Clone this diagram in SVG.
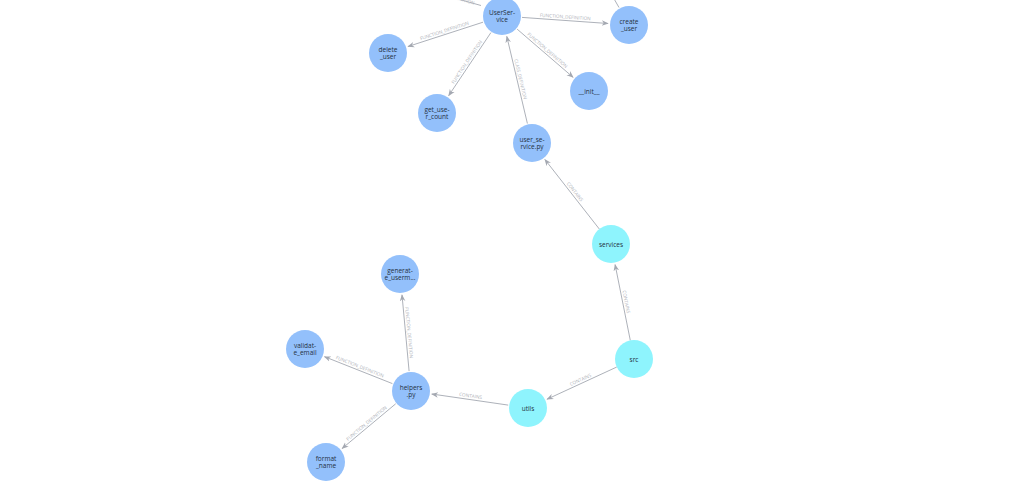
<svg xmlns="http://www.w3.org/2000/svg" width="1030" height="498" viewBox="0 0 1030 498">
  <style>
    .edge { stroke: #a4a8b1; stroke-width: 0.9; fill: none; }
    .elabel { font-family: "Open Sans", "Liberation Sans", sans-serif; font-size: 4.7px; fill: #aeb1b8; text-anchor: middle; dominant-baseline: central; }
    .node circle { stroke: none; }
    .file circle { fill: #93c0fb; }
    .dir circle { fill: #8ef4fd; }
    .node text { font-family: "Open Sans", "Liberation Sans", sans-serif; font-size: 6.5px; fill: #243040; text-anchor: middle; dominant-baseline: central; }
  </style>
  <defs>
    <marker id="arrow" viewBox="0 0 10 10" refX="9" refY="5" markerWidth="7" markerHeight="7" markerUnits="userSpaceOnUse" orient="auto">
      <path d="M0,1 L10,5 L0,9 L3,5 Z" fill="#a4a8b1"/>
    </marker>
  </defs>
  <rect width="1030" height="498" fill="#ffffff"/>

  <g id="connectors">
    <!-- UserService → off-canvas method -->
    <line class="edge" x1="481" y1="5.5" x2="440" y2="-6"/>
    <text class="elabel" transform="translate(449.8,-4.2) rotate(15.7)">FUNCTION_DEFINITION</text>
    <!-- off-canvas → create_user -->
    <line class="edge" x1="619" y1="7.5" x2="605" y2="-17"/>

    <line class="edge" x1="522" y1="17.4" x2="608" y2="23.5" marker-end="url(#arrow)"/>
    <text class="elabel" transform="translate(565.3,16.5) rotate(4)">FUNCTION_DEFINITION</text>

    <line class="edge" x1="483" y1="22.2" x2="408" y2="46.5" marker-end="url(#arrow)"/>
    <text class="elabel" transform="translate(444.3,30.5) rotate(-18)">FUNCTION_DEFINITION</text>

    <line class="edge" x1="490.9" y1="32.6" x2="448.7" y2="95.6" marker-end="url(#arrow)"/>
    <text class="elabel" transform="translate(466.5,61.9) rotate(-56)">FUNCTION_DEFINITION</text>

    <line class="edge" x1="517.1" y1="29.1" x2="573.1" y2="77.3" marker-end="url(#arrow)"/>
    <text class="elabel" transform="translate(547.6,50) rotate(40.8)">FUNCTION_DEFINITION</text>

    <line class="edge" x1="527.4" y1="123.5" x2="506.8" y2="36.4" marker-end="url(#arrow)"/>
    <text class="elabel" transform="translate(520.9,79) rotate(76.7)">CLASS_DEFINITION</text>

    <line class="edge" x1="599.3" y1="229" x2="544.9" y2="159.5" marker-end="url(#arrow)"/>
    <text class="elabel" transform="translate(575.2,191.5) rotate(52)">CONTAINS</text>

    <line class="edge" x1="630.3" y1="340.4" x2="615.1" y2="264.6" marker-end="url(#arrow)"/>
    <text class="elabel" transform="translate(626.6,301.7) rotate(78.7)">CONTAINS</text>

    <line class="edge" x1="616.8" y1="367" x2="547.1" y2="399.2" marker-end="url(#arrow)"/>
    <text class="elabel" transform="translate(580.3,379.4) rotate(-24.8)">CONTAINS</text>

    <line class="edge" x1="508.2" y1="405.1" x2="431.8" y2="394" marker-end="url(#arrow)"/>
    <text class="elabel" transform="translate(470.6,395.5) rotate(8.3)">CONTAINS</text>

    <line class="edge" x1="409.1" y1="371.1" x2="402" y2="294.9" marker-end="url(#arrow)"/>
    <text class="elabel" transform="translate(409.5,332.6) rotate(84.6)">FUNCTION_DEFINITION</text>

    <line class="edge" x1="392.4" y1="383.6" x2="324.5" y2="356.7" marker-end="url(#arrow)"/>
    <text class="elabel" transform="translate(360,366.3) rotate(21.6)">FUNCTION_DEFINITION</text>

    <line class="edge" x1="395.7" y1="403.8" x2="342.1" y2="448.5" marker-end="url(#arrow)"/>
    <text class="elabel" transform="translate(366.4,423) rotate(-39.9)">FUNCTION_DEFINITION</text>
  </g>

  <g id="node-UserService" class="node file">
    <circle cx="502" cy="16" r="19"/>
    <text x="502" y="12.5">UserSer-</text>
    <text x="502" y="19.5">vice</text>
  </g>
  <g id="node-create_user" class="node file">
    <circle cx="629" cy="25" r="19"/>
    <text x="629" y="21.5">create</text>
    <text x="629" y="28.5">_user</text>
  </g>
  <g id="node-delete_user" class="node file">
    <circle cx="388" cy="53" r="19"/>
    <text x="388" y="49.5">delete</text>
    <text x="388" y="56.5">_user</text>
  </g>
  <g id="node-get_user_count" class="node file">
    <circle cx="437" cy="113" r="19"/>
    <text x="437" y="109.5">get_use-</text>
    <text x="437" y="116.5">r_count</text>
  </g>
  <g id="node-init" class="node file">
    <circle cx="589" cy="91" r="19"/>
    <text x="589" y="91.5">__init__</text>
  </g>
  <g id="node-user_service_py" class="node file">
    <circle cx="532" cy="143" r="19"/>
    <text x="532" y="139.5">user_se-</text>
    <text x="532" y="146.5">rvice.py</text>
  </g>
  <g id="node-services" class="node dir">
    <circle cx="611" cy="244" r="19"/>
    <text x="611" y="244.5">services</text>
  </g>
  <g id="node-src" class="node dir">
    <circle cx="634" cy="359" r="19"/>
    <text x="634" y="359.5">src</text>
  </g>
  <g id="node-utils" class="node dir">
    <circle cx="528" cy="408" r="19"/>
    <text x="528" y="408.5">utils</text>
  </g>
  <g id="node-helpers_py" class="node file">
    <circle cx="411" cy="391" r="19"/>
    <text x="411" y="387.5">helpers</text>
    <text x="411" y="394.5">.py</text>
  </g>
  <g id="node-generate_username" class="node file">
    <circle cx="400" cy="274" r="19"/>
    <text x="400" y="270.5">generat-</text>
    <text x="400" y="277.5">e_userm...</text>
  </g>
  <g id="node-validate_email" class="node file">
    <circle cx="305" cy="349" r="19"/>
    <text x="305" y="345.5">validat-</text>
    <text x="305" y="352.5">e_email</text>
  </g>
  <g id="node-format_name" class="node file">
    <circle cx="326" cy="462" r="19"/>
    <text x="326" y="458.5">format</text>
    <text x="326" y="465.5">_name</text>
  </g>
</svg>
